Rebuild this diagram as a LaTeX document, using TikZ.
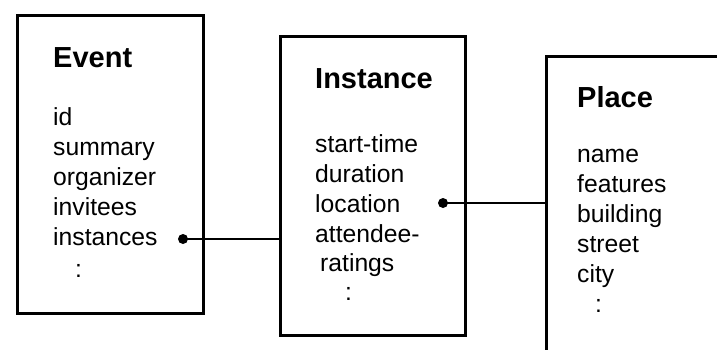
\documentclass[tikz,border=0pt]{standalone}
\usepackage{fontspec}
\setmainfont{Liberation Sans}
\begin{document}
\begin{tikzpicture}[x=1pt,y=-1pt,
  entity/.style={draw=black,line width=3.4pt,rectangle,inner sep=0pt,anchor=north west},
  title/.style={anchor=base west,inner sep=0pt,font=\fontsize{29}{29}\selectfont\bfseries},
  field/.style={anchor=base west,inner sep=0pt,font=\fontsize{24.7}{30}\selectfont},
  link/.style={line width=1.7pt},
  joint/.style={circle,fill=black,inner sep=0pt,minimum size=10pt}]
\useasboundingbox (0,0) rectangle (717,349);
\clip (0,0) rectangle (717,349);

% entity boxes
\node[entity,minimum width=186pt,minimum height=298.5pt] (event) at (15.5,13.5) {};
\node[entity,minimum width=185pt,minimum height=299pt] (inst) at (278.5,34.5) {};
\node[entity,minimum width=260pt,minimum height=360pt] (place) at (544.5,54.5) {};

% Event
\node[title] (evt) at (53,67) {Event};
\node[field] (ev1) at (53,125) {id};
\node[field] (ev2) at (53,155) {summary};
\node[field] (ev3) at (53,185) {organizer};
\node[field] (ev4) at (53,215) {invitees};
\node[field] (ev5) at (53,245) {instances};
\node[field] (ev6) at (75,277) {:};

% Instance
\node[title] (int) at (315,88) {Instance};
\node[field] (in1) at (315,152) {start-time};
\node[field] (in2) at (315,182) {duration};
\node[field] (in3) at (315,212) {location};
\node[field] (in4) at (315,242) {attendee-};
\node[field] (in5) at (320,271) {ratings};
\node[field] (in6) at (345,300) {:};

% Place
\node[title] (plt) at (577,107) {Place};
\node[field] (pl1) at (577,162) {name};
\node[field] (pl2) at (577,192) {features};
\node[field] (pl3) at (577,222) {building};
\node[field] (pl4) at (577,252) {street};
\node[field] (pl5) at (577,282) {city};
\node[field] (pl6) at (595,312) {:};

% references
\node[joint] (jev) at (183,239) {};
\node[joint] (jin) at (443,203) {};
\draw[link] (jev.center) -- (inst.west |- jev.center);
\draw[link] (jin.center) -- (place.west |- jin.center);
\end{tikzpicture}
\end{document}
